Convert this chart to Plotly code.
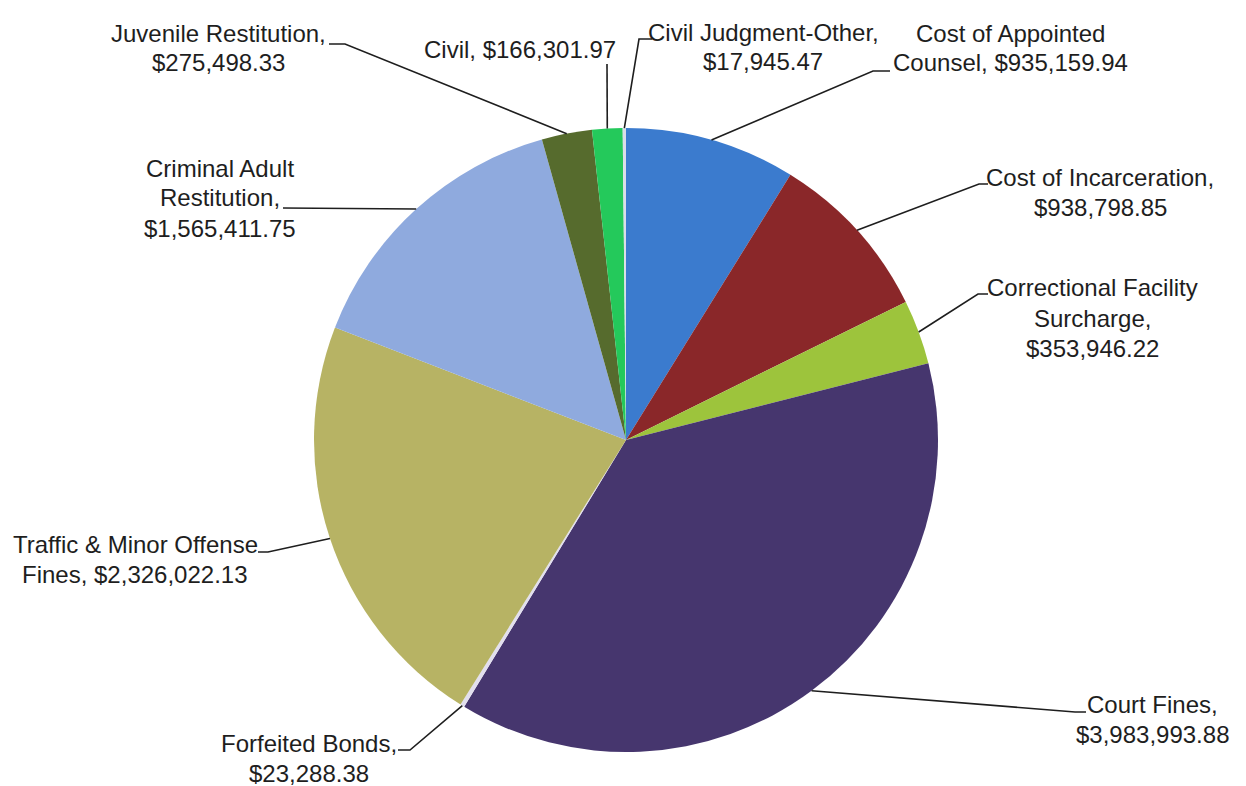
import math
import plotly.graph_objects as go

# ---- data (clockwise from 12 o'clock) ----
categories = [
    "Cost of Appointed Counsel",
    "Cost of Incarceration",
    "Correctional Facility Surcharge",
    "Court Fines",
    "Forfeited Bonds",
    "Traffic & Minor Offense Fines",
    "Criminal Adult Restitution",
    "Juvenile Restitution",
    "Civil",
    "Civil Judgment-Other",
]
values = [
    935159.94,
    938798.85,
    353946.22,
    3983993.88,
    23288.38,
    2326022.13,
    1565411.75,
    275498.33,
    166301.97,
    17945.47,
]
colors = [
    "#3B7BCE", "#8A2729", "#9DC43C", "#46366E", "#E2DFEE",
    "#B7B364", "#8FAADE", "#566B2D", "#24C95B", "#DADDE8",
]

# ---- layout (pixels) ----
W, H = 1246, 786
CX, CY, R = 626, 440, 312
FONT = "Liberation Sans, Arial, sans-serif"
FS = 24
LS = 30  # line spacing px

# words per line for each label, label block position (centre x, first line y)
words_per_line = [[3, 2], [3, 1], [2, 1, 1], [2, 1], [2, 1], [4, 2], [2, 1, 1], [2, 1], [2], [2, 1]]
label_pos = [
    (1010, 33), (1100, 178), (1092, 288), (1152, 704), (309, 743),
    (135, 544), (220, 168), (218, 33), (520, 50), (763, 32),
]
# leader line points from the label side (pixels); last point is on the pie edge
leader_pts = [
    [(890, 71), (873, 71)],
    [(988, 184), (979, 184)],
    [(988, 294), (978, 294)],
    [(1086, 712), (1075, 712)],
    [(398, 750), (410, 750)],
    [(258, 552), (268, 552)],
    [(283, 208)],
    [(329, 44), (345, 44)],
    [(607, 64)],
    [(652, 39), (639, 39)],
]


def px(x):
    return x / W


def py(y):
    return 1 - y / H


fig = go.Figure(
    go.Pie(
        labels=categories,
        values=values,
        sort=False,
        direction="clockwise",
        rotation=0,
        marker=dict(colors=colors, line=dict(width=0)),
        textinfo="none",
        hoverinfo="label+value",
        showlegend=False,
        domain=dict(x=[px(CX - R), px(CX + R)], y=[py(CY + R), py(CY - R)]),
    )
)

total = sum(values)
cum = 0.0
annotations = []
shapes = []
for i, (cat, val) in enumerate(zip(categories, values)):
    mid = (cum + val / 2) / total
    cum += val
    ang = 2 * math.pi * mid
    ex, ey = CX + R * math.sin(ang), CY - R * math.cos(ang)
    # text lines
    words = f"{cat}, ${val:,.2f}".split(" ")
    lines, k = [], 0
    for n in words_per_line[i]:
        lines.append(" ".join(words[k:k + n]))
        k += n
    cx, y0 = label_pos[i]
    for j, ln in enumerate(lines):
        annotations.append(dict(
            x=px(cx), y=py(y0 + j * LS), xref="paper", yref="paper",
            text=ln, showarrow=False, xanchor="center", yanchor="middle",
            font=dict(family=FONT, size=FS, color="#1E1E1E"),
        ))
    pts = leader_pts[i] + [(ex, ey)]
    path = "M " + " L ".join(f"{px(a):.5f},{py(b):.5f}" for a, b in pts)
    shapes.append(dict(type="path", xref="paper", yref="paper", path=path,
                       line=dict(color="#1E1E1E", width=1.6)))

fig.update_layout(
    width=W, height=H,
    margin=dict(l=0, r=0, t=0, b=0),
    paper_bgcolor="white",
    plot_bgcolor="white",
    annotations=annotations,
    shapes=shapes,
)

fig.write_html("out.html")
